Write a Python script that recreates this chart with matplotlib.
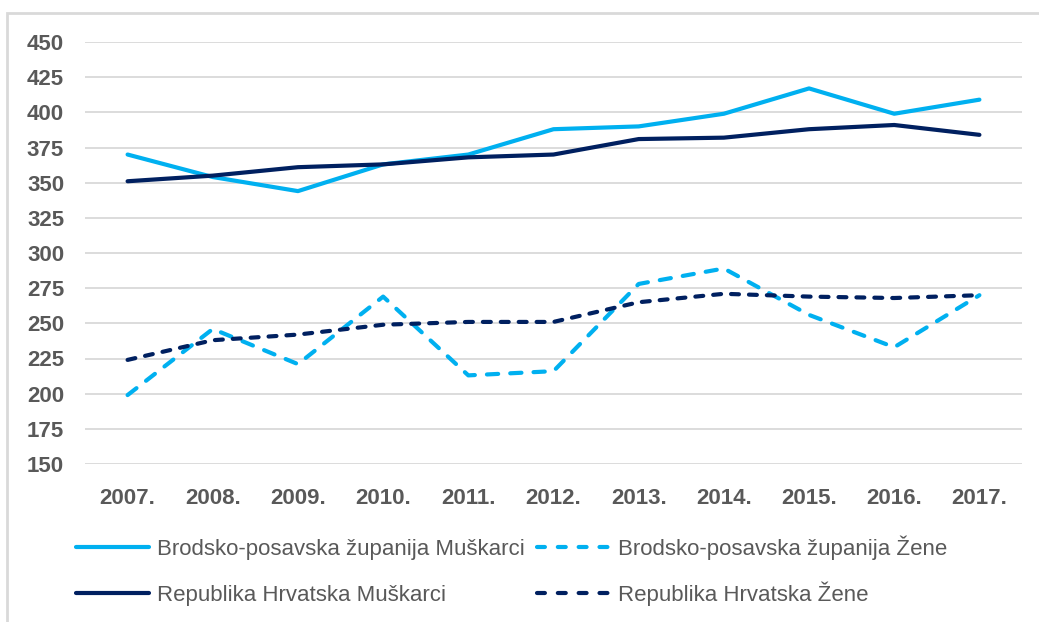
import numpy as np
import matplotlib
matplotlib.use('Agg')
import matplotlib.pyplot as plt
from matplotlib.patches import Rectangle
from matplotlib.lines import Line2D

# Podaci
godine = ['2007.', '2008.', '2009.', '2010.', '2011.', '2012.', '2013.', '2014.', '2015.', '2016.', '2017.']
bp_muskarci = [370, 354, 344, 363, 370, 388, 390, 399, 417, 399, 409]
bp_zene = [199, 246, 221, 269, 213, 216, 278, 289, 256, 233, 270]
rh_muskarci = [351, 355, 361, 363, 368, 370, 381, 382, 388, 391, 384]
rh_zene = [224, 238, 242, 249, 251, 251, 265, 271, 269, 268, 270]

svijetlo = '#00B0F0'
tamno = '#002060'
siva = '#595959'

plt.rcParams['font.family'] = ['Liberation Sans', 'DejaVu Sans']

W, H = 1039, 622
fig = plt.figure(figsize=(W / 100, H / 100), dpi=100)
ax = fig.add_axes([85 / W, 1 - 464 / H, 937 / W, 422 / H])

x = np.arange(len(godine))
lw = 3.0
ax.plot(x, bp_muskarci, color=svijetlo, lw=lw, solid_capstyle='round', solid_joinstyle='round', zorder=3)
ax.plot(x, rh_muskarci, color=tamno, lw=lw, solid_capstyle='round', solid_joinstyle='round', zorder=4)
ax.plot(x, bp_zene, color=svijetlo, lw=lw, dashes=(2.7, 2.9), dash_capstyle='round', zorder=3)
ax.plot(x, rh_zene, color=tamno, lw=lw, dashes=(1.9, 2.4), dash_capstyle='round', zorder=4)

ax.set_xlim(-0.5, len(godine) - 0.5)
ax.set_ylim(150, 450)
ax.set_yticks(np.arange(150, 451, 25))
ax.set_xticks(x)
ax.set_xticklabels(godine)
ax.grid(axis='y', color='#d9d9d9', lw=1.3)
ax.set_axisbelow(True)
for s in ax.spines.values():
    s.set_visible(False)
ax.tick_params(axis='both', length=0, labelsize=16, labelcolor=siva)
ax.tick_params(axis='y', pad=15)
ax.tick_params(axis='x', pad=17)
for t in ax.get_xticklabels() + ax.get_yticklabels():
    t.set_fontweight('bold')

# okvir oko grafikona
fig.patches.append(Rectangle((7 / W, -0.1), 1.2, 1 - 13 / H + 0.1, transform=fig.transFigure,
                             fill=False, edgecolor='#d9d9d9', lw=2))

# legenda (rucno, dva reda)
legenda = [
    ('Brodsko-posavska županija Muškarci', svijetlo, None, 76, 547),
    ('Brodsko-posavska županija Žene', svijetlo, (1.9, 3.1), 537, 547),
    ('Republika Hrvatska Muškarci', tamno, None, 76, 593),
    ('Republika Hrvatska Žene', tamno, (1.9, 3.1), 537, 593),
]
for tekst, boja, crtice, x0, y0 in legenda:
    yf = 1 - y0 / H
    ln = Line2D([x0 / W, (x0 + 73) / W], [yf, yf], transform=fig.transFigure, color=boja, lw=lw,
                solid_capstyle='round', dash_capstyle='round')
    if crtice:
        ln.set_dashes(crtice)
    fig.add_artist(ln)
    fig.text((x0 + 81) / W, 1 - (y0 + 8) / H, tekst, color=siva, fontsize=16, va='baseline', ha='left')

fig.savefig('out.png', dpi=100)
